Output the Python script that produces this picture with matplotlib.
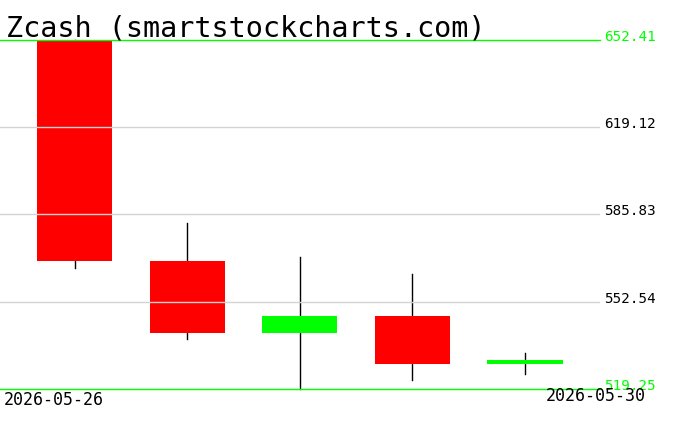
import matplotlib
matplotlib.use('Agg')
import matplotlib.pyplot as plt

# candle data
dates = ['2026-05-26', '2026-05-27', '2026-05-28', '2026-05-29', '2026-05-30']
opens = [652.41, 568.2, 540.7, 547.1, 528.9]
highs = [652.41, 582.6, 569.6, 563.1, 533.0]
lows = [565.4, 538.4, 519.25, 522.6, 525.1]
closes = [568.2, 540.7, 547.1, 528.9, 530.3]

price_ticks = [652.41, 619.12, 585.83, 552.54, 519.25]
title = 'Zcash (smartstockcharts.com)'

W, H = 676, 431
fig = plt.figure(figsize=(W / 100, H / 100), dpi=100)
fig.patch.set_facecolor('white')

# plot area in pixels: x 0..600, y 41..390
ax = fig.add_axes([0, (H - 390) / H, 600 / W, (390 - 41) / H])
ax.set_facecolor('white')
for s in ax.spines.values():
    s.set_visible(False)
ax.set_xticks([])
ax.set_yticks([])

ymin, ymax = min(price_ticks), max(price_ticks)
ax.set_ylim(ymin, ymax)
ax.set_xlim(-2 / 3, len(dates) - 1 + 2 / 3)

for i in range(len(dates)):
    o, h, l, c = opens[i], highs[i], lows[i], closes[i]
    col = '#00ff00' if c >= o else '#ff0000'
    ax.plot([i, i], [l, h], color='black', linewidth=1.0, zorder=2, clip_on=False)
    ax.bar(i, abs(c - o), bottom=min(o, c), width=2 / 3, color=col,
           linewidth=0, zorder=3)

# grid lines and price labels
for p in price_ticks:
    if p in (ymin, ymax):
        ax.axhline(p, color='#00ff00', linewidth=1.0, zorder=4, clip_on=False)
        tc = '#00ff00'
    else:
        ax.axhline(p, color='#d3d3d3', linewidth=1.0, zorder=4)
        tc = 'black'
    ax.annotate('%.2f' % p, xy=(1, p), xycoords=('axes fraction', 'data'),
                xytext=(4, 0), textcoords='offset pixels',
                ha='left', va='baseline', fontsize=10.3,
                family='DejaVu Sans Mono', color=tc, annotation_clip=False)

# title
fig.text(6 / W, (H - 37) / H, title, fontsize=20.5, family='DejaVu Sans Mono',
         color='black', ha='left', va='baseline')

# first and last date
fig.text(4 / W, (H - 405) / H, dates[0], fontsize=12, family='DejaVu Sans Mono',
         ha='left', va='baseline')
fig.text(646 / W, (H - 401) / H, dates[-1], fontsize=12, family='DejaVu Sans Mono',
         ha='right', va='baseline')

fig.savefig('out.png', dpi=100)
